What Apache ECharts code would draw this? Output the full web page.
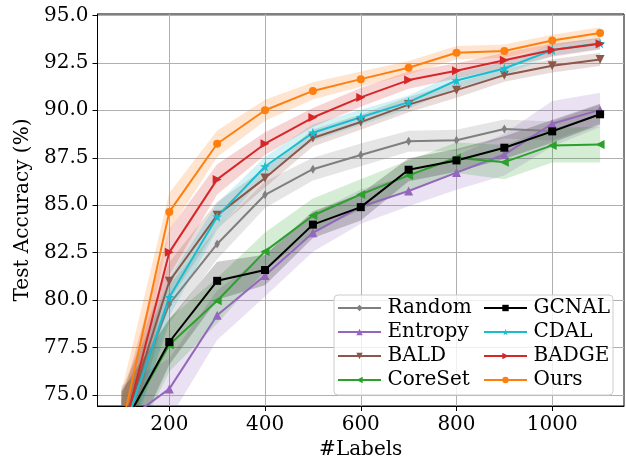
<!DOCTYPE html>
<html>
<head>
<meta charset="utf-8">
<script src="https://cdn.jsdelivr.net/npm/echarts@6/dist/echarts.min.js"></script>
<style>
  html, body { margin: 0; padding: 0; background: #fff; }
  #chart { width: 626px; height: 466px; }
</style>
</head>
<body>
<div id="chart"></div>
<script>
// Labelled-set sizes (x) and mean test accuracy / spread per method
const labels = [100, 200, 300, 400, 500, 600, 700, 800, 900, 1000, 1100];

const randomMean  = [73.3, 79.8, 82.96, 85.55, 86.9, 87.65, 88.37, 88.42, 89.01, 88.91, 89.8];
const entropyMean = [73.5, 75.33, 79.21, 81.3, 83.55, 84.93, 85.75, 86.72, 87.67, 89.29, 90.02];
const baldMean    = [73.0, 81.0, 84.48, 86.43, 88.54, 89.38, 90.3, 91.06, 91.85, 92.34, 92.68];
const coresetMean = [73.2, 77.65, 79.97, 82.57, 84.46, 85.57, 86.57, 87.5, 87.27, 88.15, 88.2];
const gcnalMean   = [73.2, 77.8, 81.02, 81.59, 83.98, 84.9, 86.87, 87.36, 88.03, 88.89, 89.79];
const cdalMean    = [72.8, 80.16, 84.4, 87.04, 88.82, 89.63, 90.43, 91.57, 92.2, 93.17, 93.53];
const badgeMean   = [72.7, 82.52, 86.36, 88.24, 89.62, 90.68, 91.59, 92.08, 92.63, 93.17, 93.5];
const oursMean    = [73.2, 84.65, 88.24, 90.0, 91.02, 91.64, 92.24, 93.03, 93.12, 93.68, 94.07];

const randomStd  = [2.0, 1.0, 0.8, 0.7, 0.6, 0.6, 0.55, 0.55, 0.5, 0.5, 0.5];
const entropyStd = [2.0, 1.6, 1.3, 1.1, 1.0, 0.9, 0.8, 0.9, 1.1, 1.2, 0.9];
const baldStd    = [2.0, 1.0, 0.7, 0.5, 0.45, 0.4, 0.4, 0.4, 0.35, 0.35, 0.35];
const coresetStd = [2.0, 1.4, 1.2, 1.0, 0.9, 0.8, 0.8, 0.8, 0.9, 0.9, 0.95];
const gcnalStd   = [2.0, 1.2, 1.0, 0.8, 0.7, 0.7, 0.6, 0.6, 0.6, 0.6, 0.55];
const cdalStd    = [2.0, 1.0, 0.7, 0.5, 0.45, 0.4, 0.35, 0.4, 0.35, 0.3, 0.3];
const badgeStd   = [2.0, 1.2, 0.8, 0.6, 0.5, 0.5, 0.45, 0.4, 0.4, 0.35, 0.3];
const oursStd    = [2.0, 1.0, 0.7, 0.55, 0.45, 0.4, 0.35, 0.35, 0.35, 0.3, 0.3];

const xTicks = [200, 400, 600, 800, 1000];
const yTicks = [75, 77.5, 80, 82.5, 85, 87.5, 90, 92.5, 95];

const STAR = 'path://M0,-10L2.35,-3.24L9.51,-3.09L3.8,1.24L5.88,8.09L0,4L-5.88,8.09L-3.8,1.24L-9.51,-3.09L-2.35,-3.24Z';

const methods = [
  { name: 'Random',  mean: randomMean,  std: randomStd,  color: '#7f7f7f', symbol: 'diamond',  size: [5.5, 9], rotate: 0 },
  { name: 'Entropy', mean: entropyMean, std: entropyStd, color: '#9467bd', symbol: 'triangle', size: 9, rotate: 0 },
  { name: 'BALD',    mean: baldMean,    std: baldStd,    color: '#8c564b', symbol: 'triangle', size: 9, rotate: 180 },
  { name: 'CoreSet', mean: coresetMean, std: coresetStd, color: '#2ca02c', symbol: 'triangle', size: 9, rotate: 90 },
  { name: 'GCNAL',   mean: gcnalMean,   std: gcnalStd,   color: '#000000', symbol: 'rect',     size: 8, rotate: 0 },
  { name: 'CDAL',    mean: cdalMean,    std: cdalStd,    color: '#17becf', symbol: STAR,       size: 10, rotate: 0 },
  { name: 'BADGE',   mean: badgeMean,   std: badgeStd,   color: '#d62728', symbol: 'triangle', size: 9, rotate: -90 },
  { name: 'Ours',    mean: oursMean,    std: oursStd,    color: '#ff7f0e', symbol: 'circle',   size: 8, rotate: 0 }
];

function hexToRgba(hex, a) {
  const n = parseInt(hex.slice(1), 16);
  return 'rgba(' + (n >> 16) + ',' + ((n >> 8) & 255) + ',' + (n & 255) + ',' + a + ')';
}

const FONT = 'DejaVu Serif';
const series = [];

// shaded spread bands (mean ± std): one polygon per method, upper edge forward, lower edge back
methods.forEach(function (m) {
  const fill = hexToRgba(m.color, 0.2);
  series.push({
    name: m.name + ' spread', type: 'custom', z: 1, silent: true, clip: true,
    data: labels.map(function (x, k) { return [x, m.mean[k] - m.std[k], m.mean[k] + m.std[k]]; }),
    encode: { x: 0, y: [1, 2] },
    renderItem: function (params, api) {
      if (params.dataIndexInside !== 0) return null;
      const n = params.dataInsideLength;
      const pts = [];
      for (let k = 0; k < n; k++) pts.push(api.coord([api.value(0, k), api.value(2, k)]));
      for (let k = n - 1; k >= 0; k--) pts.push(api.coord([api.value(0, k), api.value(1, k)]));
      return { type: 'polygon', shape: { points: pts }, style: { fill: fill, stroke: null } };
    }
  });
});

// mean curves with markers
methods.forEach(function (m) {
  series.push({
    name: m.name, type: 'line', z: 2, clip: true,
    data: labels.map(function (x, k) { return [x, m.mean[k]]; }),
    symbol: m.symbol, symbolSize: m.size, symbolRotate: m.rotate,
    showAllSymbol: true,
    lineStyle: { color: m.color, width: 2 },
    itemStyle: { color: m.color, opacity: 1 },
    emphasis: { disabled: true }
  });
});

const legendText = { fontFamily: FONT, fontSize: 20, color: '#000', lineHeight: 20, padding: [0, 0, 0, 1.5] };

function legendAt(left, names) {
  return {
    orient: 'vertical', left: left, top: 298, padding: 0,
    itemWidth: 43, itemHeight: 8, itemGap: 4,
    symbolRotate: 'inherit', selectedMode: false,
    data: names, textStyle: legendText, z: 5
  };
}

const option = {
  animation: false,
  backgroundColor: '#ffffff',
  grid: {
    left: 97.5, right: 2, top: 14, bottom: 60,
    show: true, borderColor: '#000', borderWidth: 1, backgroundColor: 'transparent'
  },
  xAxis: {
    type: 'value', min: 50, max: 1150,
    name: '#Labels', nameLocation: 'middle', nameGap: 27,
    nameTextStyle: { fontFamily: FONT, fontSize: 20, color: '#000' },
    axisLine: { show: true, lineStyle: { color: '#000', width: 1 } },
    axisTick: { show: true, length: 5, lineStyle: { color: '#000' }, customValues: xTicks },
    axisLabel: {
      fontFamily: FONT, fontSize: 20, color: '#000', margin: 9, customValues: xTicks,
      formatter: function (v) { return String(v); }
    },
    splitLine: { show: true, lineStyle: { color: '#b0b0b0', width: 1 } }
  },
  yAxis: {
    type: 'value', min: 74.43, max: 95.07,
    name: 'Test Accuracy (%)', nameLocation: 'middle', nameGap: 53,
    nameTextStyle: { fontFamily: FONT, fontSize: 20, color: '#000' },
    axisLine: { show: true, lineStyle: { color: '#000', width: 1 } },
    axisTick: { show: true, length: 5, lineStyle: { color: '#000' }, customValues: yTicks },
    axisLabel: {
      fontFamily: FONT, fontSize: 20, color: '#000', margin: 9, customValues: yTicks,
      formatter: function (v) { return v.toFixed(1); }
    },
    splitLine: { show: true, lineStyle: { color: '#b0b0b0', width: 1 } }
  },
  legend: [
    legendAt(337, ['Random', 'Entropy', 'BALD', 'CoreSet']),
    legendAt(483, ['GCNAL', 'CDAL', 'BADGE', 'Ours'])
  ],
  graphic: [{
    type: 'rect', z: 4, silent: true,
    shape: { x: 334, y: 295, width: 279, height: 100, r: 4 },
    style: { fill: 'rgba(255,255,255,0.8)', stroke: '#cccccc', lineWidth: 1 }
  }],
  series: series
};

const chart = echarts.init(document.getElementById('chart'), null, { renderer: 'canvas' });
chart.setOption(option);
</script>
</body>
</html>
